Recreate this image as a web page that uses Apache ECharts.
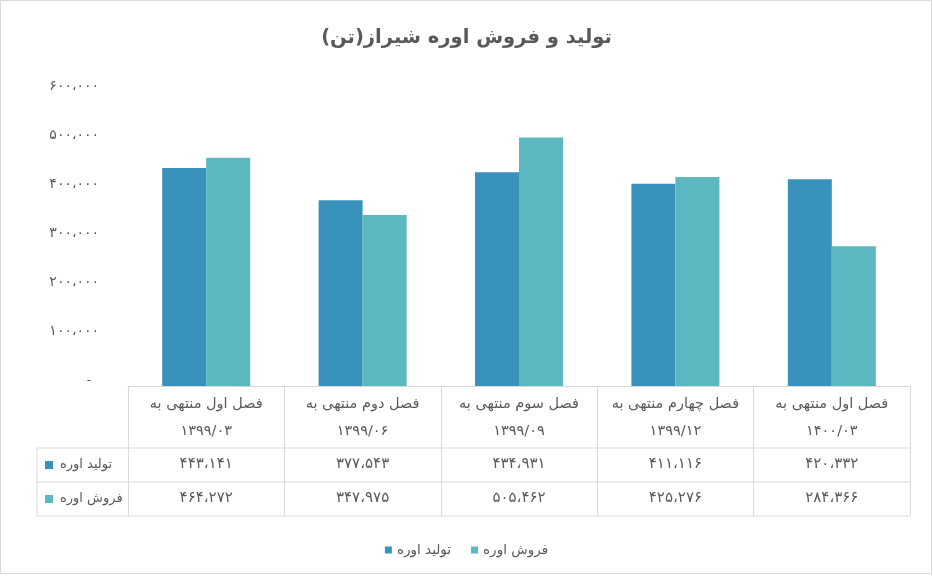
<!DOCTYPE html>
<html><head><meta charset="utf-8">
<script src="https://cdn.jsdelivr.net/npm/echarts@6/dist/echarts.min.js"></script>
<style>html,body{margin:0;padding:0;background:#fff}#c{width:933px;height:576px}</style>
</head><body><div id="c"></div>
<script>
// ---- data ----
var titleText = 'تولید و فروش اوره شیراز(تن)';
var categoryNames = ['فصل اول منتهی به','فصل دوم منتهی به','فصل سوم منتهی به','فصل چهارم منتهی به','فصل اول منتهی به'];
var categoryDates = ['۱۳۹۹/۰۳','۱۳۹۹/۰۶','۱۳۹۹/۰۹','۱۳۹۹/۱۲','۱۴۰۰/۰۳'];
var seriesNames = ['تولید اوره','فروش اوره'];
var production = [443141, 377543, 434931, 411116, 420332];
var sales = [464272, 347975, 505462, 425276, 284366];
var yTicks = [0, 100000, 200000, 300000, 400000, 500000, 600000];

// ---- styling / layout ----
var FONT = 'DejaVu Sans';
var TXT = '#595959';
var LINE = '#d9d9d9';
var colors = ['#3892bc', '#5bb7c0'];
var L = {gridLeft:128, gridRight:910, gridTop:91, axisY:386, headBottom:448, row1Bottom:482, row2Bottom:516, legendLeft:37};

function fa(n){
  var s = String(n).replace(/\B(?=(\d{3})+(?!\d))/g, ',');
  return s.replace(/\d/g, function(d){return '۰۱۲۳۴۵۶۷۸۹'[+d];}).replace(/,/g,'،');
}
var cats = categoryNames.map(function(n,i){return n + '\n' + categoryDates[i];});
var seriesValues = [production, sales];

var chart = echarts.init(document.getElementById('c'));
var rowCenters = [(L.headBottom+L.row1Bottom)/2, (L.row1Bottom+L.row2Bottom)/2];

var graphics = [
  {type:'rect', shape:{x:0.5,y:0.5,width:931,height:573}, style:{fill:'none', stroke:LINE, lineWidth:1}, silent:true},
  {type:'line', shape:{x1:L.legendLeft,y1:L.headBottom,x2:L.gridRight,y2:L.headBottom}, style:{stroke:LINE,lineWidth:1}},
  {type:'line', shape:{x1:L.legendLeft,y1:L.row1Bottom,x2:L.gridRight,y2:L.row1Bottom}, style:{stroke:LINE,lineWidth:1}},
  {type:'line', shape:{x1:L.legendLeft,y1:L.row2Bottom,x2:L.gridRight,y2:L.row2Bottom}, style:{stroke:LINE,lineWidth:1}},
  {type:'line', shape:{x1:L.legendLeft,y1:L.headBottom,x2:L.legendLeft,y2:L.row2Bottom}, style:{stroke:LINE,lineWidth:1}}
];
seriesNames.forEach(function(n,i){
  graphics.push({type:'rect', shape:{x:45,y:rowCenters[i]-4,width:8,height:8}, style:{fill:colors[i]}});
  graphics.push({type:'text', x:60, y:rowCenters[i], style:{text:n, fill:TXT, font:'13px "'+FONT+'"', textAlign:'left', textVerticalAlign:'middle'}});
});

var xAxes = [{
  type:'category', gridIndex:0, position:'bottom', data:cats,
  axisLine:{lineStyle:{color:LINE}},
  axisTick:{show:true, interval:0, length:L.row2Bottom-L.axisY, lineStyle:{color:LINE}},
  axisLabel:{interval:0, color:TXT, fontFamily:FONT, fontSize:14.5, lineHeight:27, margin:5, verticalAlign:'top'}
}];
seriesValues.forEach(function(vals,i){
  xAxes.push({
    type:'category', gridIndex:0, position:'bottom', offset:0, data:cats,
    axisLine:{show:false}, axisTick:{show:false}, splitLine:{show:false},
    axisLabel:{interval:0, color:TXT, fontFamily:FONT, fontSize:15, margin:rowCenters[i]-L.axisY-1, verticalAlign:'middle',
      formatter:function(v, idx){return fa(vals[idx]);}}
  });
});

chart.setOption({
  backgroundColor:'#fff',
  animation:false,
  title:{text:'\u200F'+titleText+'\u200F', left:'center', top:23, textStyle:{fontFamily:FONT, fontSize:19.5, fontWeight:'bold', color:TXT}},
  legend:{data:seriesNames, left:'center', top:538, icon:'rect', itemWidth:7, itemHeight:7, itemGap:20,
    textStyle:{fontFamily:FONT, fontSize:13.5, color:TXT}},
  grid:{left:L.gridLeft, right:933-L.gridRight, top:L.gridTop, bottom:576-L.axisY},
  xAxis:xAxes,
  yAxis:{type:'value', min:yTicks[0], max:yTicks[yTicks.length-1], interval:yTicks[1]-yTicks[0],
    splitLine:{show:false}, axisLine:{show:false}, axisTick:{show:false},
    axisLabel:{color:TXT, fontFamily:FONT, fontSize:14, margin:29, padding:[0,0,10,0],
      formatter:function(v){return v===0 ? '{z|-}' : fa(v);},
      rich:{z:{color:TXT, fontSize:12, padding:[0,8,0,0]}}}},
  series:seriesNames.map(function(n,i){
    return {name:n, type:'bar', xAxisIndex:0, yAxisIndex:0, data:seriesValues[i], barWidth:44, barGap:'0%',
      itemStyle:{color:colors[i]}};
  }),
  graphic:graphics
});
</script></body></html>
